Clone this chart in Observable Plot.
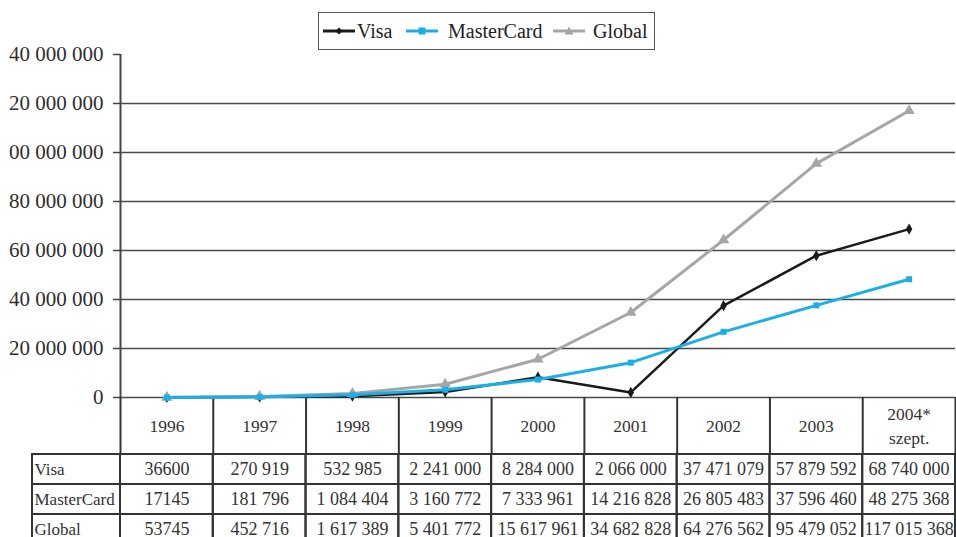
<!DOCTYPE html>
<html>
<head>
<meta charset="utf-8">
<script src="https://cdn.jsdelivr.net/npm/d3@7"></script>
<script src="https://cdn.jsdelivr.net/npm/@observablehq/plot@0.6"></script>
<style>
  html, body { margin: 0; padding: 0; background: #fff; }
  body { width: 956px; height: 537px; overflow: hidden; position: relative; font-family: "Liberation Serif", serif; }
  #legend { position: absolute; left: 318px; top: 12px; width: 335px; height: 36px; border: 1.5px solid #555; color: #222; font-size: 20px; }
  #legend .item { position: absolute; top: 0; height: 36px; display: flex; align-items: center; }
  #legend svg { display: block; }
  #wrap { position: absolute; left: 8px; top: 44px; width: 948px; height: 493px; overflow: hidden; }
  #wrap svg { display: block; }
</style>
</head>
<body>
<div id="legend"></div>
<div id="wrap"></div>
<script>
// ---- data ----
const years = ["1996", "1997", "1998", "1999", "2000", "2001", "2002", "2003", "2004*\nszept."];
const seriesNames = ["Visa", "MasterCard", "Global"];
const visa = [36600, 270919, 532985, 2241000, 8284000, 2066000, 37471079, 57879592, 68740000];
const mastercard = [17145, 181796, 1084404, 3160772, 7333961, 14216828, 26805483, 37596460, 48275368];
const globalTotal = [53745, 452716, 1617389, 5401772, 15617961, 34682828, 64276562, 95479052, 117015368];
const yTicks = [0, 20000000, 40000000, 60000000, 80000000, 100000000, 120000000, 140000000];

const colors = ["#1a1a1a", "#1eaee6", "#a6a6a6"];
const symbols = ["diamond", "square", "triangle"];
const seriesValues = [visa, mastercard, globalTotal];

const records = seriesNames.flatMap((s, k) => seriesValues[k].map((v, i) => ({series: s, i, value: v})));
const bySeries = s => records.filter(d => d.series === s);
const spaced = d => d3.format(",")(d).replace(/,/g, " ");
const tableFmt = d => d < 100000 ? String(d) : spaced(d);
const idx = d3.range(years.length);
const boundaries = d3.range(years.length + 1).map(i => i - 0.5);
const drawOrder = ["Visa", "Global", "MasterCard"];

// ---- legend ----
const legend = document.getElementById("legend");
const legendPos = [[4, 38], [87, 129], [234, 274]];
seriesNames.forEach((s, k) => {
  const sw = document.createElement("div");
  sw.className = "item";
  sw.style.left = legendPos[k][0] + "px";
  const c = colors[k];
  let m;
  if (symbols[k] === "diamond") m = `<path d="M16,2.5 L19.5,6 L16,9.5 L12.5,6Z" fill="${c}"/>`;
  else if (symbols[k] === "square") m = `<rect x="12.5" y="2.5" width="7" height="7" fill="${c}"/>`;
  else m = `<path d="M16,1.5 L20.5,9.5 L11.5,9.5Z" fill="${c}"/>`;
  sw.innerHTML = `<svg width="32" height="12"><line x1="0" x2="32" y1="6" y2="6" stroke="${c}" stroke-width="3"/>${m}</svg>`;
  legend.appendChild(sw);
  const t = document.createElement("div");
  t.className = "item";
  t.style.left = legendPos[k][1] + "px";
  t.textContent = s;
  legend.appendChild(t);
});

// ---- chart ----
const commonStyle = {background: "transparent", overflow: "visible", fontFamily: "Liberation Serif", color: "#333"};

const lineMarks = drawOrder.flatMap(s => {
  const k = seriesNames.indexOf(s);
  return [
    Plot.line(bySeries(s), {x: "i", y: "value", stroke: colors[k], strokeWidth: k === 0 ? 2.5 : 3}),
    Plot.dot(bySeries(s), {x: "i", y: "value", fill: colors[k], symbol: symbols[k], r: k === 2 ? 4.2 : 3.4})
  ];
});

const chart = Plot.plot({
  width: 948,
  height: 410,
  marginTop: 10,
  marginBottom: 57,
  marginLeft: 112,
  marginRight: 1,
  style: commonStyle,
  x: {domain: [-0.5, 8.5]},
  y: {domain: [0, 140000000]},
  marks: [
    Plot.gridY(yTicks.slice(0, -1), {stroke: "#4a4a4a", strokeOpacity: 1, strokeWidth: 1.5}),
    Plot.ruleX([boundaries[0]], {stroke: "#444", strokeWidth: 2}),
    Plot.axisY(yTicks, {tickSize: 7, tickPadding: 10, tickFormat: spaced, fontSize: 21, label: null, stroke: "#444", strokeWidth: 1.5, fill: "#2e2e2e"}),
    Plot.axisX(boundaries, {tickSize: 57, tickFormat: () => "", stroke: "#333", strokeWidth: 2, label: null}),
    Plot.text(idx, {x: d => d, text: d => years[d], frameAnchor: "bottom", dy: 27, lineAnchor: "middle", lineHeight: 1.35, fontSize: 17.5, fill: "#333"}),
    ...lineMarks
  ]
});

const table = Plot.plot({
  width: 948,
  height: 90,
  marginTop: 0,
  marginBottom: 0,
  marginLeft: 112,
  marginRight: 1,
  style: commonStyle,
  x: {domain: [-0.5, 8.5], axis: null},
  y: {domain: seriesNames, padding: 0, axis: null},
  marks: [
    Plot.barX(records, {x1: d => d.i - 0.5, x2: d => d.i + 0.5, y: "series", fill: "none", stroke: "#333", strokeWidth: 2}),
    Plot.barX(seriesNames, {x1: boundaries[0], x2: boundaries[0], y: d => d, insetLeft: -88, fill: "none", stroke: "#333", strokeWidth: 2}),
    Plot.text(records, {x: "i", y: "series", text: d => tableFmt(d.value), fontSize: 18, fill: "#333"}),
    Plot.text(seriesNames, {y: d => d, text: d => d, frameAnchor: "left", textAnchor: "start", dx: -86, fontSize: 17, fill: "#333"})
  ]
});

const wrap = document.getElementById("wrap");
wrap.appendChild(chart);
wrap.appendChild(table);
</script>
</body>
</html>
